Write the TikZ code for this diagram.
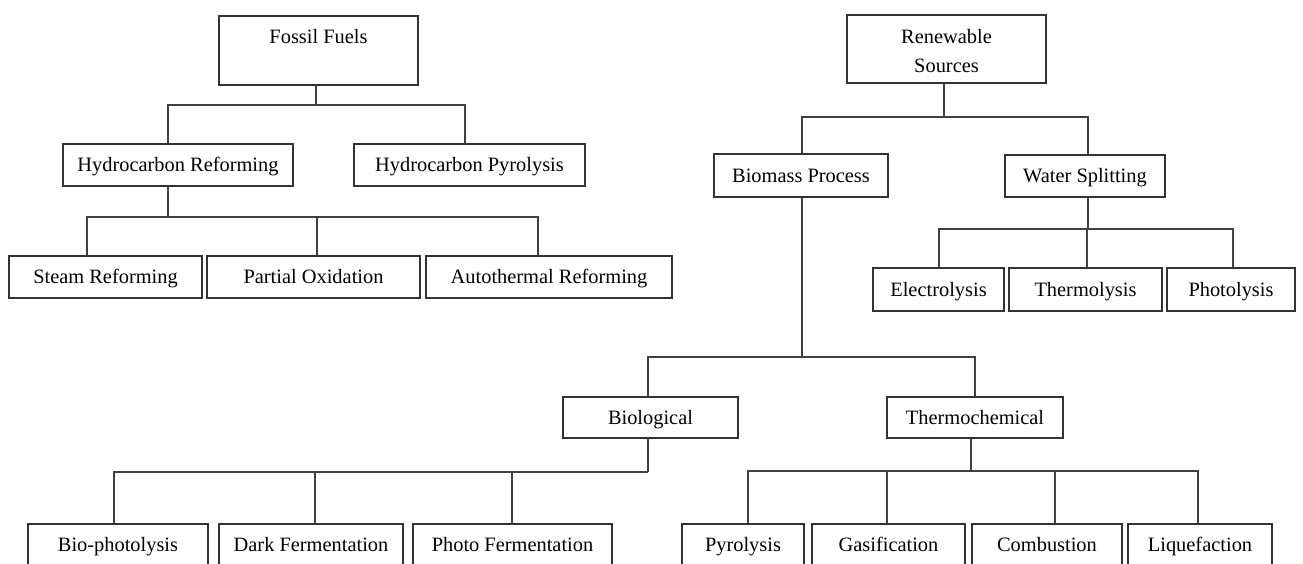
\documentclass[tikz,border=0pt]{standalone}
\usepackage{fontspec}
\setmainfont{Liberation Serif}
\begin{document}
\begin{tikzpicture}[x=1pt,y=-1pt,
  box/.style={draw=black!80, line width=2pt, inner sep=0pt, minimum height=42pt,
    text height=16pt, text depth=3pt, font=\fontsize{20.4}{29}\selectfont, text=black},
  bigbox/.style={draw=black!80, line width=2pt, inner sep=0pt,
    font=\fontsize{20.4}{29}\selectfont, text=black},
  conn/.style={draw=black!75, line width=2pt}]
\useasboundingbox (0,0) rectangle (1303,563);
\clip (0,0) rectangle (1303,563);
\fill[white] (0,0) rectangle (1303,563);

% Fossil fuels branch
\node[bigbox] (ff) at (318.5,50.5) {\parbox[c][69pt][t]{199pt}{\centering\rule{0pt}{27pt}Fossil Fuels}};
\node[box, minimum width=230pt] (hr) at (178,165) {Hydrocarbon Reforming};
\node[box, minimum width=231pt] (hp) at (469.5,165) {Hydrocarbon Pyrolysis};
\node[box, minimum width=193pt] (sr) at (105.5,277) {Steam Reforming};
\node[box, minimum width=213pt] (po) at (313.5,277) {Partial Oxidation};
\node[box, minimum width=246pt] (ar) at (549,277) {Autothermal Reforming};

% Renewable branch
\node[bigbox] (rs) at (946.5,49) {\parbox[c][68pt][t]{199pt}{\centering\rule{0pt}{28pt}Renewable\\Sources}};
\node[box, minimum width=174pt, minimum height=43pt] (bp) at (801,175.5) {Biomass Process};
\node[box, minimum width=160pt] (ws) at (1085,176) {Water Splitting};
\node[box, minimum width=131pt, minimum height=43pt] (el) at (938.5,289.5) {Electrolysis};
\node[box, minimum width=153pt, minimum height=43pt] (th) at (1085.5,289.5) {Thermolysis};
\node[box, minimum width=128pt, minimum height=43pt] (ph) at (1231,289.5) {Photolysis};
\node[box, minimum width=175pt, minimum height=41pt] (bio) at (650.5,417.5) {Biological};
\node[box, minimum width=176pt, minimum height=41pt] (tc) at (975,417.5) {Thermochemical};
\node[box, minimum width=180pt] (bph) at (118,545) {Bio-photolysis};
\node[box, minimum width=184pt] (df) at (311,545) {Dark Fermentation};
\node[box, minimum width=199pt] (pf) at (512.5,545) {Photo Fermentation};
\node[box, minimum width=122pt] (py) at (743,545) {Pyrolysis};
\node[box, minimum width=153pt] (ga) at (888.5,545) {Gasification};
\node[box, minimum width=150pt] (co) at (1047,545) {Combustion};
\node[box, minimum width=144pt] (li) at (1200,545) {Liquefaction};

% bus levels
\coordinate (b1) at (0,105);
\coordinate (b2) at (0,217);
\coordinate (b3) at (0,117);
\coordinate (b4) at (0,229);
\coordinate (b5) at (0,357);
\coordinate (b6) at (0,472);
\coordinate (b7) at (0,471);

% Fossil fuels connectors
\draw[conn] ([xshift=-2.5pt]ff.south) -- ([xshift=-2.5pt]ff.south |- b1);
\draw[conn] ([xshift=-10pt]hr.north) |- ([xshift=-4.5pt]hp.north |- b1) -- ([xshift=-4.5pt]hp.north);
\draw[conn] ([xshift=-10pt]hr.south) -- ([xshift=-10pt]hr.south |- b2);
\draw[conn] ([xshift=-18.5pt]sr.north) |- ([xshift=-11pt]ar.north |- b2) -- ([xshift=-11pt]ar.north);
\draw[conn] ([xshift=3.5pt]po.north) -- ([xshift=3.5pt]po.north |- b2);

% Renewable connectors
\draw[conn] ([xshift=-2.5pt]rs.south) -- ([xshift=-2.5pt]rs.south |- b3);
\draw[conn] ([xshift=1pt]bp.north) |- ([xshift=3pt]ws.north |- b3) -- ([xshift=3pt]ws.north);
\draw[conn] ([xshift=3pt]ws.south) -- ([xshift=3pt]ws.south |- b4);
\draw[conn] ([xshift=0.5pt]el.north) |- ([xshift=2pt]ph.north |- b4) -- ([xshift=2pt]ph.north);
\draw[conn] ([xshift=1.5pt]th.north) -- ([xshift=1.5pt]th.north |- b4);

% Biomass connectors
\draw[conn] ([xshift=1pt]bp.south) -- ([xshift=1pt]bp.south |- b5);
\draw[conn] ([xshift=-2.5pt]bio.north) |- (tc.north |- b5) -- (tc.north);
\draw[conn] ([xshift=-2.5pt]bio.south) -- ([xshift=-2.5pt]bio.south |- b6);
\draw[conn] ([xshift=-4pt]bph.north) |- ([xshift=-2.5pt]bio.south |- b6);
\draw[conn] ([xshift=4pt]df.north) -- ([xshift=4pt]df.north |- b6);
\draw[conn] ([xshift=-0.5pt]pf.north) -- ([xshift=-0.5pt]pf.north |- b6);
\draw[conn] ([xshift=-4pt]tc.south) -- ([xshift=-4pt]tc.south |- b7);
\draw[conn] ([xshift=5pt]py.north) |- ([xshift=-2pt]li.north |- b7) -- ([xshift=-2pt]li.north);
\draw[conn] ([xshift=-1.5pt]ga.north) -- ([xshift=-1.5pt]ga.north |- b7);
\draw[conn] ([xshift=8pt]co.north) -- ([xshift=8pt]co.north |- b7);
\end{tikzpicture}
\end{document}
